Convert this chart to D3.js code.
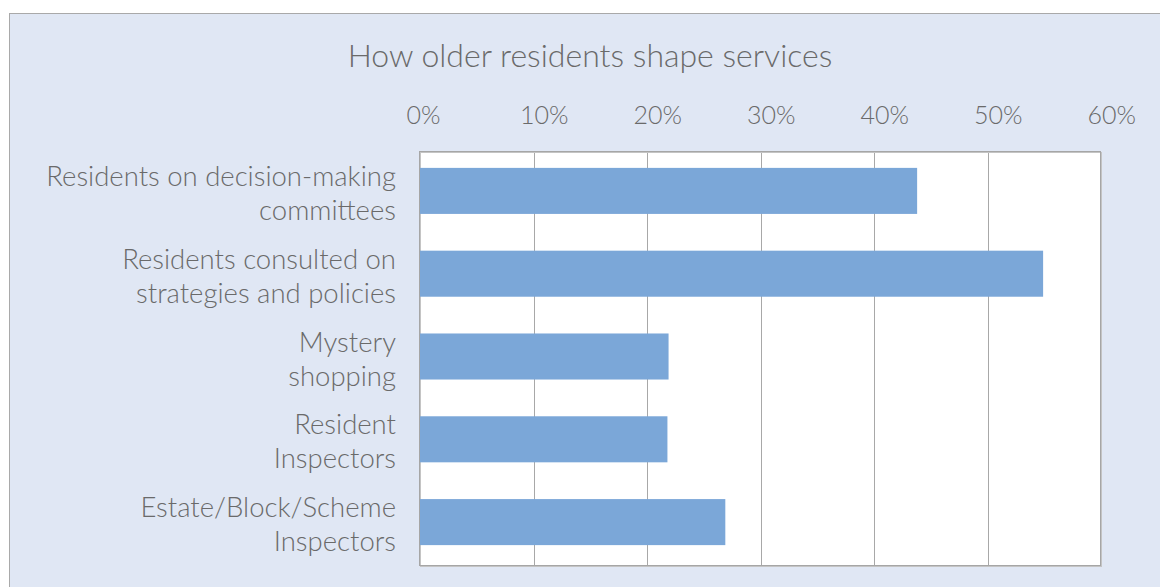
<!DOCTYPE html>
<html>
<head>
<meta charset="utf-8">
<script src="https://cdn.jsdelivr.net/npm/d3@7"></script>
<style>
  html, body { margin: 0; padding: 0; background: #ffffff; }
  svg { display: block; }
  text { font-family: Lato, "Open Sans", sans-serif; font-weight: 300; fill: #6a6a6a; }
</style>
</head>
<body>
<svg id="chart" width="1160" height="587"></svg>
<script>
// Share of providers using each method of involving older residents
const categories = [
  ["Residents on decision-making", "committees"],
  ["Residents consulted on", "strategies and policies"],
  ["Mystery", "shopping"],
  ["Resident", "Inspectors"],
  ["Estate/Block/Scheme", "Inspectors"]
];
const values = [43.8, 54.9, 21.9, 21.8, 26.9];
const tickValues = [0, 10, 20, 30, 40, 50, 60];
const title = "How older residents shape services";

const svg = d3.select("#chart");
const W = 1160, H = 587;

// chart area panel
svg.append("rect")
  .attr("x", 9.5).attr("y", 13.5)
  .attr("width", W + 10).attr("height", H + 10)
  .attr("fill", "#e0e7f4")
  .attr("stroke", "#a9a9a9").attr("stroke-width", 1);

const plot = { left: 420, top: 152, right: 1101, bottom: 566 };

const x = d3.scaleLinear().domain([0, 60]).range([plot.left, plot.right]);
const y = d3.scaleBand()
  .domain(d3.range(categories.length))
  .range([plot.top, plot.bottom])
  .paddingInner(0.444).paddingOuter(0.222);

// plot background
svg.append("rect")
  .attr("x", plot.left).attr("y", plot.top)
  .attr("width", plot.right - plot.left).attr("height", plot.bottom - plot.top)
  .attr("fill", "#ffffff");

// vertical gridlines
svg.append("g")
  .selectAll("line")
  .data(tickValues)
  .join("line")
  .attr("x1", d => Math.round(x(d)) + 0.5).attr("x2", d => Math.round(x(d)) + 0.5)
  .attr("y1", plot.top).attr("y2", plot.bottom)
  .attr("stroke", "#a8a8a8").attr("stroke-width", 1);

// plot border with soft edge on right/bottom
svg.append("rect")
  .attr("x", plot.left + 0.5).attr("y", plot.top + 0.5)
  .attr("width", plot.right - plot.left).attr("height", plot.bottom - plot.top)
  .attr("fill", "none")
  .attr("stroke", "#c4c4c4").attr("stroke-width", 1);
svg.append("rect")
  .attr("x", plot.left - 0.5).attr("y", plot.top - 0.5)
  .attr("width", plot.right - plot.left).attr("height", plot.bottom - plot.top)
  .attr("fill", "none")
  .attr("stroke", "#a6a6a6").attr("stroke-width", 1);

// bars
svg.append("g")
  .selectAll("rect")
  .data(values)
  .join("rect")
  .attr("x", x(0))
  .attr("y", (d, i) => y(i) - 2.5)
  .attr("width", d => x(d) - x(0))
  .attr("height", y.bandwidth())
  .attr("fill", "#7ba7d8");

// top axis labels
const axis = d3.axisTop(x)
  .tickValues(tickValues)
  .tickFormat(d => d + "%")
  .tickSize(0).tickPadding(0);
const gAxis = svg.append("g")
  .attr("transform", `translate(0,124)`)
  .call(axis);
gAxis.select(".domain").remove();
gAxis.selectAll("text")
  .attr("dy", 0)
  .attr("x", -14)
  .attr("text-anchor", "start")
  .style("font-size", "25px")
  .style("font-family", "Lato, sans-serif")
  .style("font-weight", 300)
  .attr("fill", "#6a6a6a");

// category labels
const lineGap = 34;
const labels = svg.append("g")
  .selectAll("text")
  .data(categories)
  .join("text")
  .attr("text-anchor", "end")
  .style("font-size", "27.5px")
  .attr("transform", (d, i) => `translate(396,${y(i) + y.bandwidth() / 2})`);
labels.selectAll("tspan")
  .data(d => d.map((t, k, arr) => ({ t, k, n: arr.length })))
  .join("tspan")
  .attr("x", 0)
  .attr("y", d => (d.k - (d.n - 1) / 2) * lineGap)
  .attr("dy", "0.35em")
  .text(d => d.t);

// title
svg.append("text")
  .attr("x", 590).attr("y", 67)
  .attr("text-anchor", "middle")
  .style("font-size", "32px")
  .text(title);
</script>
</body>
</html>
